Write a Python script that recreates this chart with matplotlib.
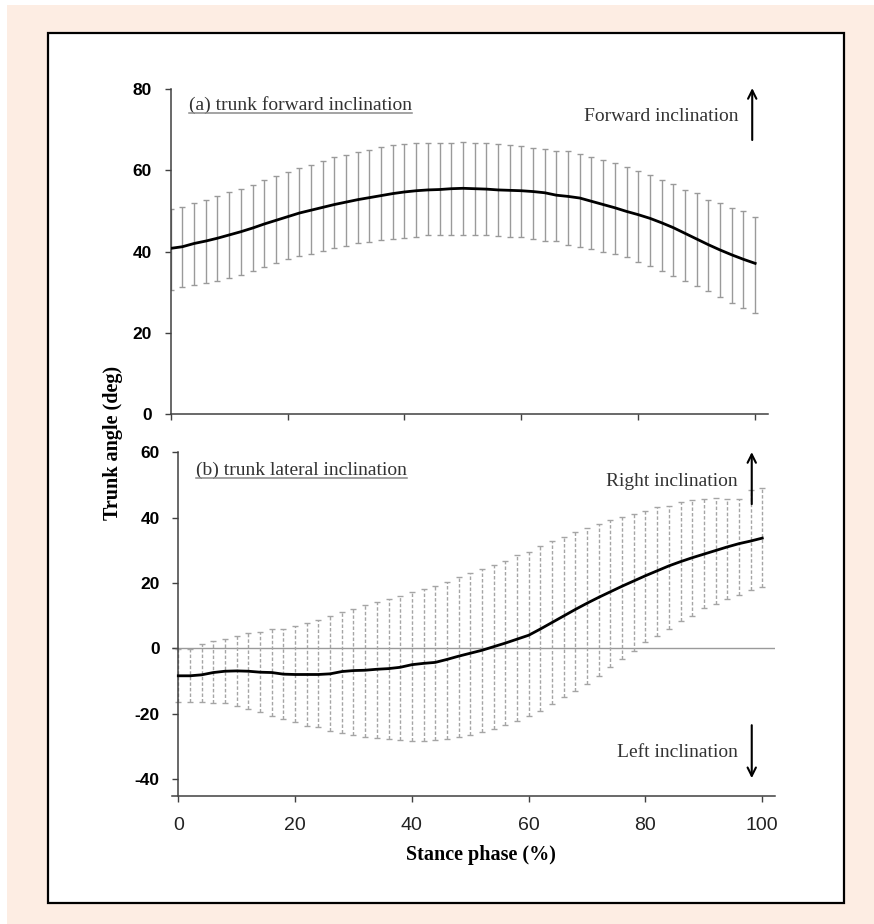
import matplotlib
matplotlib.use("Agg")
import matplotlib.pyplot as plt
from matplotlib.patches import Rectangle
from matplotlib.lines import Line2D

# ---------------- data ----------------
stance = [0, 2, 4, 6, 8, 10, 12, 14, 16, 18, 20, 22, 24, 26, 28, 30, 32, 34, 36, 38,
          40, 42, 44, 46, 48, 50, 52, 54, 56, 58, 60, 62, 64, 66, 68, 70, 72, 74, 76, 78,
          80, 82, 84, 86, 88, 90, 92, 94, 96, 98, 100]

mean_a = [40.8, 41.2, 42.0, 42.6, 43.3, 44.1, 44.9, 45.8, 46.8, 47.7, 48.6, 49.5, 50.2,
          50.9, 51.6, 52.2, 52.8, 53.3, 53.8, 54.3, 54.7, 55.0, 55.2, 55.3, 55.5, 55.6,
          55.5, 55.4, 55.2, 55.1, 55.0, 54.8, 54.5, 53.9, 53.6, 53.2, 52.4, 51.6, 50.8,
          49.9, 49.1, 48.2, 47.1, 45.9, 44.5, 43.1, 41.7, 40.4, 39.2, 38.1, 37.1]
upper_a = [50.5, 51.1, 52.1, 52.6, 53.6, 54.6, 55.5, 56.5, 57.6, 58.7, 59.6, 60.5, 61.3,
           62.4, 63.2, 63.9, 64.6, 65.1, 65.7, 66.2, 66.4, 66.7, 66.7, 66.7, 66.8, 67.0,
           66.8, 66.7, 66.5, 66.3, 66.0, 65.6, 65.2, 64.8, 64.7, 64.1, 63.4, 62.6, 61.8,
           60.9, 59.9, 58.9, 57.7, 56.7, 55.2, 54.4, 52.7, 51.9, 50.8, 49.9, 48.6]
lower_a = [30.6, 31.2, 31.8, 32.3, 32.8, 33.5, 34.3, 35.1, 36.3, 37.2, 38.2, 38.9, 39.5,
           40.2, 41.0, 41.5, 42.0, 42.3, 42.8, 43.1, 43.4, 43.7, 44.0, 44.1, 44.2, 44.2,
           44.1, 44.0, 43.9, 43.7, 43.5, 43.1, 42.7, 42.5, 41.7, 41.2, 40.7, 40.0, 39.4,
           38.6, 37.5, 36.5, 35.1, 34.0, 32.8, 31.4, 30.2, 28.9, 27.4, 26.0, 24.9]

mean_b = [-8.4, -8.4, -8.1, -7.4, -7.0, -6.9, -7.0, -7.3, -7.4, -7.9, -8.0, -8.0, -8.0,
          -7.8, -7.1, -6.8, -6.7, -6.4, -6.2, -5.8, -5.0, -4.6, -4.3, -3.4, -2.4, -1.5,
          -0.6, 0.5, 1.6, 2.8, 4.0, 5.9, 7.9, 9.9, 11.9, 13.8, 15.6, 17.3, 19.0, 20.6,
          22.2, 23.7, 25.2, 26.5, 27.7, 28.8, 29.9, 31.0, 32.0, 32.8, 33.7]
upper_b = [-0.3, -0.2, 1.2, 2.2, 3.0, 3.8, 4.6, 4.9, 5.8, 6.0, 6.7, 7.8, 8.6, 9.8, 11.2,
           12.0, 13.4, 14.2, 15.1, 16.1, 17.3, 18.2, 19.2, 20.4, 21.7, 23.1, 24.3, 25.6,
           26.8, 28.4, 29.4, 31.2, 32.9, 34.0, 35.5, 36.9, 38.1, 39.1, 40.1, 41.1, 42.1,
           43.2, 43.5, 44.7, 45.4, 45.7, 45.9, 45.7, 45.7, 48.3, 49.0]
lower_b = [-16.5, -16.5, -16.5, -16.8, -16.8, -17.6, -18.6, -19.6, -20.6, -21.6, -22.4,
           -23.7, -24.2, -25.2, -25.9, -26.5, -27.2, -27.5, -27.8, -28.0, -28.3, -28.3,
           -28.0, -27.8, -27.2, -26.5, -25.7, -24.7, -23.5, -22.1, -20.6, -19.1, -17.0,
           -15.0, -13.0, -10.9, -8.4, -5.8, -3.3, -0.8, 1.8, 3.9, 5.9, 8.5, 10.0, 12.2,
           13.6, 15.1, 16.4, 17.7, 18.7]

xticks = [0, 20, 40, 60, 80, 100]
xtick_labels = ["0", "20", "40", "60", "80", "100"]
yticks_a = [0, 20, 40, 60, 80]
ytick_labels_a = ["0", "20", "40", "60", "80"]
yticks_b = [-40, -20, 0, 20, 40, 60]
ytick_labels_b = ["-40", "-20", "0", "20", "40", "60"]

title_a = "(a) trunk forward inclination"
title_b = "(b) trunk lateral inclination"
note_fwd = "Forward inclination"
note_right = "Right inclination"
note_left = "Left inclination"
ylabel = "Trunk angle (deg)"
xlabel = "Stance phase (%)"

# ---------------- figure ----------------
W, H = 874, 924
fig = plt.figure(figsize=(W / 100, H / 100), dpi=100)
fig.patch.set_facecolor("white")

def px(x, y):
    return x / W, 1 - y / H

fig.add_artist(Rectangle(px(7, 924), 1, 1 - 5 / H, transform=fig.transFigure,
                         facecolor="#FDEDE3", edgecolor="none", zorder=-10))
fig.add_artist(Rectangle(px(48, 903), (844 - 48) / W, (903 - 33) / H,
                         transform=fig.transFigure, facecolor="white",
                         edgecolor="black", lw=1.6, zorder=-5))

serif = "Liberation Serif"
sans = "Liberation Sans"
spine_col = "#404040"

ax1 = fig.add_axes([170.7 / W, (H - 413.9) / H, (768 - 170.7) / W, (413.9 - 89.3) / H])
ax2 = fig.add_axes([171.6 / W, (H - 795.5) / H, (775.1 - 171.6) / W, (795.5 - 452.1) / H])

for ax in (ax1, ax2):
    ax.set_facecolor("none")
    for s in ("top", "right"):
        ax.spines[s].set_visible(False)
    for s in ("left", "bottom"):
        ax.spines[s].set_color(spine_col)
        ax.spines[s].set_linewidth(1.1)
    ax.tick_params(axis="both", direction="out", length=4.5, width=1.0, color=spine_col)

# ---- panel (a)
yerr_a = [[m - l for m, l in zip(mean_a, lower_a)], [u - m for u, m in zip(upper_a, mean_a)]]
ax1.errorbar(stance, mean_a, yerr=yerr_a, fmt="none", ecolor="#9a9a9a",
             elinewidth=1.0, capsize=2.4, capthick=1.0, zorder=2)
ax1.plot(stance, mean_a, color="black", lw=2.0, zorder=3)
ax1.set_xlim(0, 102.2)
ax1.set_ylim(0, 80)
ax1.set_xticks(xticks, [""] * len(xticks))
ax1.set_yticks(yticks_a, ytick_labels_a, fontweight="bold", family=sans, fontsize=12.5)
ax1.tick_params(axis="y", pad=9)

# ---- panel (b)
yerr_b = [[m - l for m, l in zip(mean_b, lower_b)], [u - m for u, m in zip(upper_b, mean_b)]]
eb = ax2.errorbar(stance, mean_b, yerr=yerr_b, fmt="none", ecolor="#a5a5a5",
                  elinewidth=1.0, capsize=2.0, capthick=1.0, zorder=2)
for lc in eb[2]:
    lc.set_linestyle((0, (2.5, 1.5)))
ax2.axhline(0, color="#9a9a9a", lw=1.0, zorder=1)
ax2.plot(stance, mean_b, color="black", lw=2.0, zorder=3)
ax2.set_xlim(-1.15, 102.2)
ax2.set_ylim(-45, 60)
ax2.spines["left"].set_position(("data", 0))
ax2.set_xticks(xticks, xtick_labels, family=sans, fontsize=14, color="#222222")
ax2.set_yticks(yticks_b, ytick_labels_b, fontweight="bold", family=sans, fontsize=12.5)
ax2.tick_params(axis="y", pad=9)
ax2.tick_params(axis="x", pad=11)

# ---- annotations
txt_col = "#333333"
ta = ax1.text(3.1, 76.1, title_a, family=serif, fontsize=14, color=txt_col,
              ha="left", va="center")
tb = ax2.text(3.0, 54.5, title_b, family=serif, fontsize=14, color=txt_col,
              ha="left", va="center")
ax1.text(97.1, 73.2, note_fwd, family=serif, fontsize=14, color=txt_col,
         ha="right", va="center")
ax2.text(95.8, 50.9, note_right, family=serif, fontsize=14, color=txt_col,
         ha="right", va="center")
ax2.text(95.8, -32.0, note_left, family=serif, fontsize=14, color=txt_col,
         ha="right", va="center")

arrow_kw = dict(arrowstyle="->,head_length=0.6,head_width=0.3", color="black", lw=1.5,
                shrinkA=0, shrinkB=0)
ax1.annotate("", xy=(99.5, 80.3), xytext=(99.5, 67.5), arrowprops=arrow_kw,
             annotation_clip=False)
ax2.annotate("", xy=(98.2, 60.0), xytext=(98.2, 44.1), arrowprops=arrow_kw,
             annotation_clip=False)
ax2.annotate("", xy=(98.2, -39.7), xytext=(98.2, -23.5), arrowprops=arrow_kw,
             annotation_clip=False)

fig.text(113 / W, 1 - 443 / H, ylabel, family=serif, fontweight="bold", fontsize=14.5,
         rotation=90, ha="center", va="center", color="black")
fig.text(481 / W, 1 - 855 / H, xlabel, family=serif, fontweight="bold", fontsize=14.5,
         ha="center", va="center", color="black")

# underline the panel titles
fig.canvas.draw()
r = fig.canvas.get_renderer()
for t in (ta, tb):
    bb = t.get_window_extent(r)
    yy = (bb.y0 + 1.0) / H
    fig.add_artist(Line2D([bb.x0 / W, bb.x1 / W], [yy, yy], transform=fig.transFigure,
                          color="#8a8a8a", lw=1.1))

fig.savefig("out.png", dpi=100)
